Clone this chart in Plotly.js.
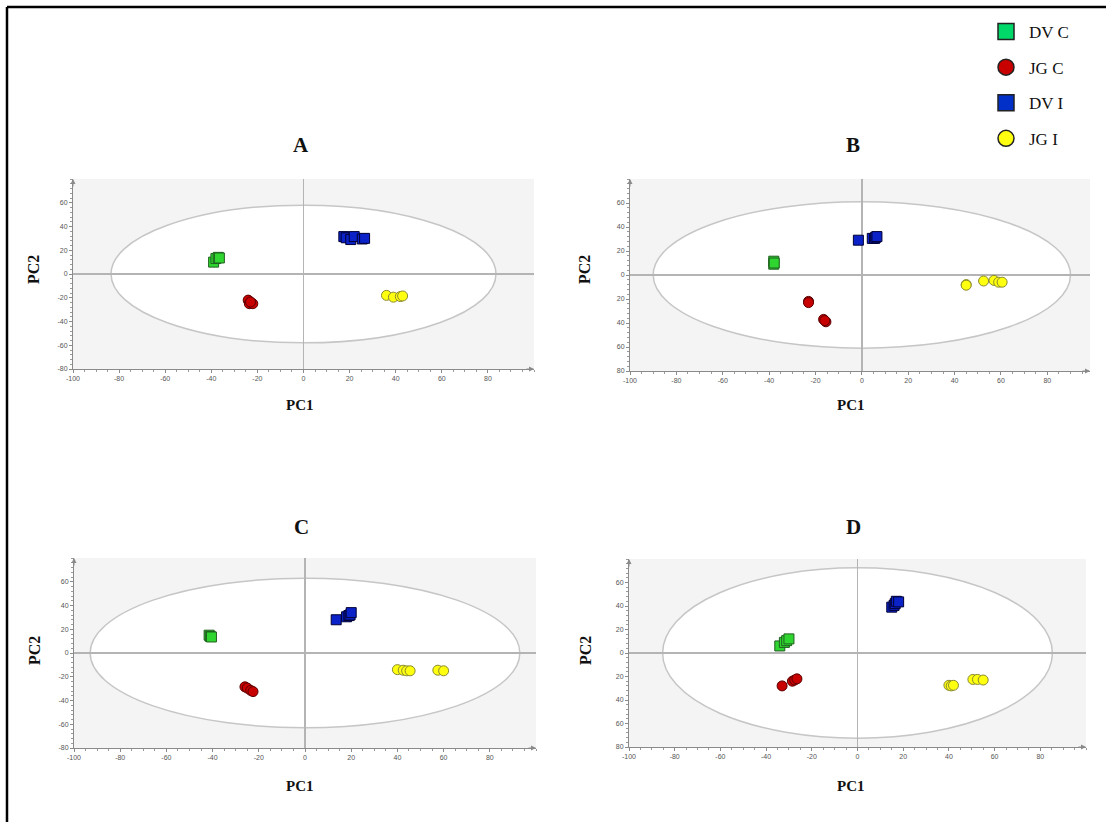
<!DOCTYPE html>
<html>
<head>
<meta charset="utf-8">
<script src="https://cdn.plot.ly/plotly-3.0.1.min.js"></script>
<style>
  html, body { margin: 0; padding: 0; background: #ffffff; }
  #chart { width: 1106px; height: 822px; }
</style>
</head>
<body>
<div id="chart"></div>
<script>
// Group names
const groups = ["DV C", "JG C", "DV I", "JG I"];
const panels = ["A", "B", "C", "D"];

// Panel A scores
const A_DVC_PC1 = [-39, -38, -37, -36.5];
const A_DVC_PC2 = [10, 13, 14, 13.5];
const A_JGC_PC1 = [-24, -23.5, -22, -23];
const A_JGC_PC2 = [-22, -25, -25, -23.5];
const A_DVI_PC1 = [17.5, 18.5, 20.5, 22, 25.5, 26.5];
const A_DVI_PC2 = [31.5, 30.5, 29, 31.5, 29.5, 30];
const A_JGI_PC1 = [36, 39, 42, 43];
const A_JGI_PC2 = [-18, -19.5, -19, -18.5];

// Panel B scores
const B_DVC_PC1 = [-38, -38, -37.8];
const B_DVC_PC2 = [11.5, 9, 10];
const B_JGC_PC1 = [-23, -23, -16.5, -15.5, -16];
const B_JGC_PC2 = [-22, -23, -37, -39, -38];
const B_DVI_PC1 = [-1.5, 4.5, 5.5, 6, 6.5];
const B_DVI_PC2 = [29, 30.5, 30.5, 31.5, 32];
const B_JGI_PC1 = [45, 45, 52.5, 57, 59, 60.5];
const B_JGI_PC2 = [-8, -8.5, -5, -4.5, -6, -6];

// Panel C scores
const C_DVC_PC1 = [-41.5, -41, -40.5];
const C_DVC_PC2 = [15, 14, 13.5];
const C_JGC_PC1 = [-26, -25, -23.5, -22.5];
const C_JGC_PC2 = [-28.5, -29.5, -31.5, -32.5];
const C_DVI_PC1 = [13.5, 18, 19, 19.5, 20];
const C_DVI_PC2 = [28, 30.5, 31.5, 32, 34];
const C_JGI_PC1 = [40, 42.5, 44, 45.5, 57.5, 60];
const C_JGI_PC2 = [-14, -14.5, -15, -15, -14.5, -15];

// Panel D scores
const D_DVC_PC1 = [-34, -32, -31, -30];
const D_DVC_PC2 = [6, 9, 10.5, 12];
const D_JGC_PC1 = [-33, -28.5, -27.5, -26.5];
const D_JGC_PC2 = [-28, -24, -23, -22];
const D_DVI_PC1 = [15, 16, 16.5, 17, 18];
const D_DVI_PC2 = [39, 40.5, 42, 44, 43.5];
const D_JGI_PC1 = [40, 41, 42, 50.5, 52.5, 55];
const D_JGI_PC2 = [-27.5, -28, -27.5, -22.5, -22.5, -23];

// Confidence ellipse half-widths along PC1 and PC2, per panel
const ellipsePC1 = [83.5, 90, 93, 85.3];
const ellipsePC2 = [58, 61, 63, 72.5];

// Axis ticks
const xTickVals = [-100, -80, -60, -40, -20, 0, 20, 40, 60, 80];
const xTickText = ["-100", "-80", "-60", "-40", "-20", "0", "20", "40", "60", "80"];
const yTickVals = [-80, -60, -40, -20, 0, 20, 40, 60];
const yTickTextSigned = ["-80", "-60", "-40", "-20", "0", "20", "40", "60"];
const yTickTextUnsigned = ["80", "60", "40", "20", "0", "20", "40", "60"];

const scores = {
  A: [[A_DVC_PC1, A_DVC_PC2], [A_JGC_PC1, A_JGC_PC2], [A_DVI_PC1, A_DVI_PC2], [A_JGI_PC1, A_JGI_PC2]],
  B: [[B_DVC_PC1, B_DVC_PC2], [B_JGC_PC1, B_JGC_PC2], [B_DVI_PC1, B_DVI_PC2], [B_JGI_PC1, B_JGI_PC2]],
  C: [[C_DVC_PC1, C_DVC_PC2], [C_JGC_PC1, C_JGC_PC2], [C_DVI_PC1, C_DVI_PC2], [C_JGI_PC1, C_JGI_PC2]],
  D: [[D_DVC_PC1, D_DVC_PC2], [D_JGC_PC1, D_JGC_PC2], [D_DVI_PC1, D_DVI_PC2], [D_JGI_PC1, D_JGI_PC2]]
};
const yTickTexts = [yTickTextSigned, yTickTextUnsigned, yTickTextSigned, yTickTextUnsigned];

// Styling
const W = 1106, H = 822;
const SERIF = "Liberation Serif, Times New Roman, serif";
const SANS = "Liberation Sans, Arial, sans-serif";
const markerStyles = [
  { symbol: "square", color: "#2fd62f", line: "#1f5f1f" },
  { symbol: "circle", color: "#c80000", line: "#5a0000" },
  { symbol: "square", color: "#0a22c8", line: "#000033" },
  { symbol: "circle", color: "#ffff10", line: "#8a8a30" }
];
const legendColors = ["#00d86a", "#c80000", "#0030c8", "#ffff10"];

// Pixel frames of the four score plots: [left, right, top, bottom]
const frames = [
  [73, 534, 179, 369],
  [630, 1090, 179, 371],
  [74, 536, 558, 748],
  [629, 1086, 559, 747]
];
const xRanges = [[-100, 100], [-100, 98.4], [-100, 100], [-100, 100]];

const data = [];
const layout = {
  width: W, height: H,
  margin: { l: 0, r: 0, t: 0, b: 0 },
  paper_bgcolor: "#ffffff",
  plot_bgcolor: "#f4f4f4",
  showlegend: true,
  legend: {
    x: 983 / W, xanchor: "left",
    y: 1 - 14 / H, yanchor: "top",
    font: { family: SERIF, size: 17, color: "#111111" },
    tracegroupgap: 10.5,
    itemwidth: 36,
    bgcolor: "rgba(0,0,0,0)",
    itemclick: false
  },
  shapes: [],
  annotations: []
};

function label(x, y, text, size, angle) {
  return {
    xref: "paper", yref: "paper", x: x / W, y: 1 - y / H,
    xanchor: "center", yanchor: "middle",
    text: text, showarrow: false, textangle: angle || 0,
    font: { family: SERIF, size: size, color: "#111111" }
  };
}

panels.forEach((p, i) => {
  const ax = i === 0 ? "" : String(i + 1);
  const xa = "x" + ax, ya = "y" + ax;
  const [l, r, t, b] = frames[i];
  const left = i % 2 === 0, top = i < 2;

  layout["xaxis" + ax] = {
    domain: [l / W, r / W],
    anchor: ya,
    range: xRanges[i],
    tickmode: "array", tickvals: xTickVals, ticktext: xTickText,
    ticks: "outside", ticklen: 3, tickcolor: "#8a8a8a",
    minor: { dtick: 5, tick0: 0, ticks: "outside", ticklen: 2, tickcolor: "#9a9a9a", showgrid: false },
    showgrid: false,
    zeroline: true, zerolinecolor: "#b4b4b4", zerolinewidth: 1.5,
    showline: true, linecolor: "#8a8a8a", linewidth: 1,
    tickfont: { family: SANS, size: 7, color: "#555555" },
    fixedrange: true
  };
  layout["yaxis" + ax] = {
    domain: [1 - b / H, 1 - t / H],
    anchor: xa,
    range: [-80, 80],
    tickmode: "array", tickvals: yTickVals, ticktext: yTickTexts[i],
    ticks: "outside", ticklen: 3, tickcolor: "#8a8a8a",
    minor: { dtick: 4, tick0: 0, ticks: "outside", ticklen: 2, tickcolor: "#9a9a9a", showgrid: false },
    showgrid: false,
    zeroline: true, zerolinecolor: "#b4b4b4", zerolinewidth: 1.5,
    showline: true, linecolor: "#8a8a8a", linewidth: 1,
    tickfont: { family: SANS, size: 7, color: "#555555" },
    fixedrange: true
  };

  // Hotelling ellipse
  layout.shapes.push({
    type: "circle", xref: xa, yref: ya, layer: "below",
    x0: -ellipsePC1[i], x1: ellipsePC1[i], y0: -ellipsePC2[i], y1: ellipsePC2[i],
    fillcolor: "#ffffff", line: { color: "#c6c6c6", width: 1.5 }
  });

  // Arrow tips on the axes
  layout.annotations.push({
    xref: xa + " domain", yref: ya + " domain", x: 0, y: 1,
    ax: 0, ay: 9, axref: "pixel", ayref: "pixel",
    text: "", showarrow: true, arrowhead: 2, arrowsize: 1, arrowwidth: 1, arrowcolor: "#8a8a8a"
  });
  layout.annotations.push({
    xref: xa + " domain", yref: ya + " domain", x: 1, y: 0,
    ax: -9, ay: 0, axref: "pixel", ayref: "pixel",
    text: "", showarrow: true, arrowhead: 2, arrowsize: 1, arrowwidth: 1, arrowcolor: "#8a8a8a"
  });

  // Panel letter and axis names
  layout.annotations.push(label(left ? 301 : 853, top ? 145 : 527, "<b>" + p + "</b>", 21));
  layout.annotations.push(label(left ? 300 : 851, top ? 405 : 786, "<b>PC1</b>", 15));
  layout.annotations.push(label(left ? 34 : 585, top ? 270 : 651, "<b>PC2</b>", 16, -90));

  scores[p].forEach((pair, g) => {
    const s = markerStyles[g];
    data.push({
      type: "scatter", mode: "markers",
      x: pair[0], y: pair[1],
      xaxis: xa, yaxis: ya,
      name: groups[g], showlegend: false, hoverinfo: "x+y+name",
      marker: { symbol: s.symbol, size: 10, color: s.color, line: { color: s.line, width: 1 } }
    });
  });
});

// Legend entries
groups.forEach((g, k) => {
  data.push({
    type: "scatter", mode: "markers",
    x: [null], y: [null],
    xaxis: "x", yaxis: "y",
    name: g, legendgroup: "g" + k, showlegend: true, hoverinfo: "skip",
    marker: { symbol: markerStyles[k].symbol, size: 16, color: legendColors[k], line: { color: "#222222", width: 1.5 } }
  });
});

// Figure frame (left and top rules)
layout.shapes.push({
  type: "line", xref: "paper", yref: "paper",
  x0: 7 / W, x1: 1, y0: 1 - 7 / H, y1: 1 - 7 / H,
  line: { color: "#000000", width: 2.5 }
});
layout.shapes.push({
  type: "line", xref: "paper", yref: "paper",
  x0: 7 / W, x1: 7 / W, y0: 0, y1: 1 - 7 / H,
  line: { color: "#000000", width: 2.5 }
});

Plotly.newPlot("chart", data, layout, { displayModeBar: false, staticPlot: true });
</script>
</body>
</html>
